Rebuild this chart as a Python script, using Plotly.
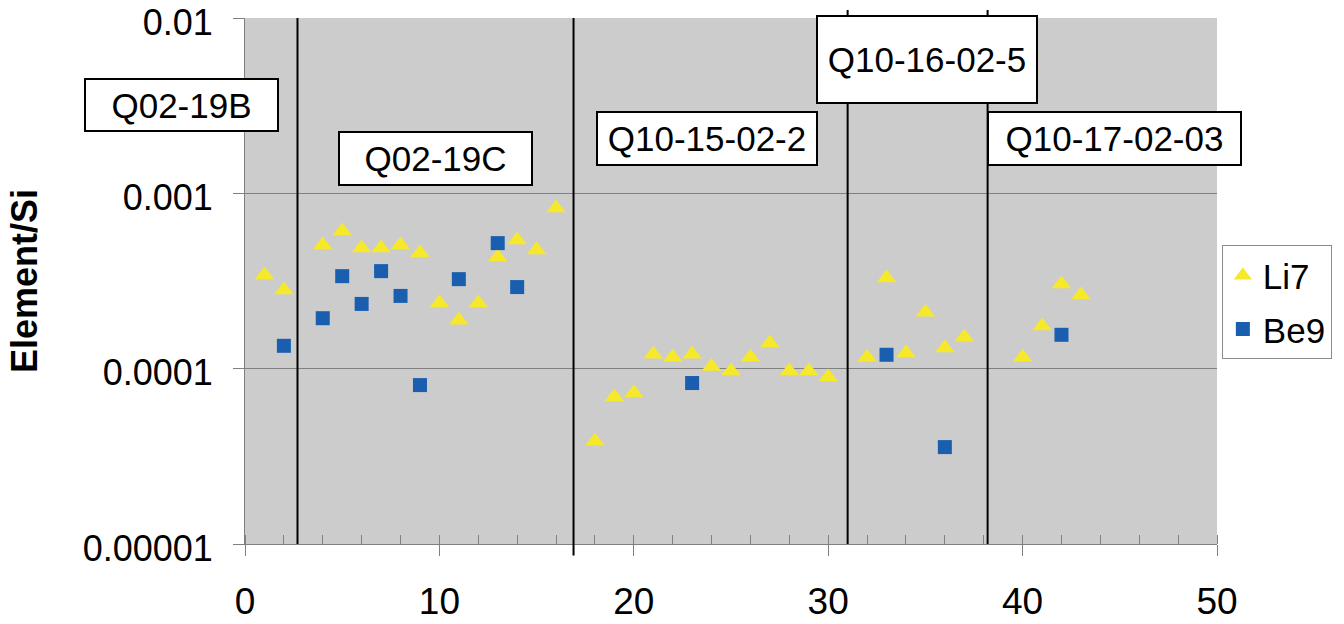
import plotly.graph_objects as go

# ---- data ----
li7_x = [1, 2, 4, 5, 6, 7, 8, 9, 10, 11, 12, 13, 14, 15, 16,
         18, 19, 20, 21, 22, 23, 24, 25, 26, 27, 28, 29, 30,
         32, 33, 34, 35, 36, 37, 40, 41, 42, 43]
li7_y = [3.42e-4, 2.81e-4, 5.07e-4, 6.1e-4, 4.87e-4, 4.87e-4, 5.07e-4, 4.57e-4,
         2.37e-4, 1.89e-4, 2.37e-4, 4.33e-4, 5.42e-4, 4.75e-4, 8.24e-4,
         3.86e-5, 6.89e-5, 7.26e-5, 1.21e-4, 1.16e-4, 1.21e-4, 1.03e-4, 9.7e-5,
         1.16e-4, 1.40e-4, 9.7e-5, 9.7e-5, 8.95e-5,
         1.16e-4, 3.29e-4, 1.23e-4, 2.10e-4, 1.31e-4, 1.51e-4,
         1.16e-4, 1.75e-4, 3.04e-4, 2.63e-4]

be9_x = [2, 4, 5, 6, 7, 8, 9, 11, 13, 14, 23, 33, 36, 42]
be9_y = [1.35e-4, 1.94e-4, 3.37e-4, 2.34e-4, 3.6e-4, 2.6e-4, 8.06e-5,
         3.24e-4, 5.2e-4, 2.92e-4, 8.28e-5, 1.20e-4, 3.57e-5, 1.56e-4]

separators = [2.7, 16.9, 31.0, 38.2]
sep_bottom = [0.0, -0.022, 0.0, 0.0]
sep_top = [1.0, 1.0, 1.015, 1.015]

sample_labels = ["Q02-19B", "Q02-19C", "Q10-15-02-2", "Q10-16-02-5", "Q10-17-02-03"]
label_x = [-0.0653, 0.196, 0.4753, 0.7016, 0.895]
label_y = [0.8346, 0.7338, 0.7709, 0.921, 0.7709]
label_w = [191, 191, 218, 218, 251]
label_h = [50, 51, 51, 85, 51]

y_tickvals = [1e-5, 1e-4, 1e-3, 1e-2]
y_ticktext = ["0.00001", "0.0001", "0.001", "0.01"]

FONT = "Liberation Sans, Arial, sans-serif"

fig = go.Figure()
fig.add_trace(go.Scatter(
    x=li7_x, y=li7_y, mode="markers", name="Li7", legendgroup="a",
    marker=dict(symbol="triangle-up", size=17, color="#F6E82B",
                line=dict(width=0))))
fig.add_trace(go.Scatter(
    x=be9_x, y=be9_y, mode="markers", name="Be9", legendgroup="b",
    marker=dict(symbol="square", size=14, color="#1A5EAF",
                line=dict(width=0))))

shapes = []
for sx, b0, t1 in zip(separators, sep_bottom, sep_top):
    shapes.append(dict(type="line", xref="x", yref="paper", x0=sx, x1=sx,
                       y0=b0, y1=t1, line=dict(color="black", width=2)))
fig.update_layout(shapes=shapes)

for t, ax, ay, w, h in zip(sample_labels, label_x, label_y, label_w, label_h):
    fig.add_annotation(text=t, xref="paper", yref="paper", x=ax, y=ay,
                       xanchor="center", yanchor="middle", showarrow=False,
                       width=w, height=h, bgcolor="white",
                       bordercolor="black", borderwidth=2, borderpad=0,
                       font=dict(family=FONT, size=35, color="black"))

fig.update_layout(
    width=1344, height=624,
    margin=dict(l=245, r=127, t=18, b=80),
    paper_bgcolor="white", plot_bgcolor="#CCCCCC",
    font=dict(family=FONT, color="black"),
    showlegend=True,
    legend=dict(x=1.005, y=0.568, xanchor="left", yanchor="top",
                bgcolor="white", bordercolor="#8C8C8C", borderwidth=1,
                font=dict(family=FONT, size=35, color="black"),
                tracegroupgap=5, itemwidth=30),
    xaxis=dict(range=[0, 50], tickvals=[0, 10, 20, 30, 40, 50],
               automargin=False, ticklabeloverflow="allow",
               ticks="outside", ticklen=11, tickcolor="#808080", tickwidth=1,
               ticklabelstandoff=14,
               showgrid=False, zeroline=False, showline=True,
               linecolor="#808080", linewidth=1,
               tickfont=dict(family=FONT, size=37, color="black"),
               minor=dict(dtick=2, ticks="inside", ticklen=9,
                          tickcolor="#808080", showgrid=False)),
    yaxis=dict(type="log", range=[-5, -2], tickvals=y_tickvals,
               automargin=False, ticklabeloverflow="allow",
               ticktext=y_ticktext, ticks="outside", ticklen=11,
               ticklabelstandoff=13, ticklabelshift=4,
               tickcolor="#808080", showgrid=True, gridcolor="#808080",
               gridwidth=1, zeroline=False, showline=True,
               linecolor="#808080", linewidth=1,
               tickfont=dict(family=FONT, size=36, color="black"),
               title=dict(text="<b>Element/Si</b>", standoff=34,
                          font=dict(family=FONT, size=36, color="black"))),
)

fig.write_html("out.html", config={"displayModeBar": False},
               post_script="document.body.style.margin='0px';")
